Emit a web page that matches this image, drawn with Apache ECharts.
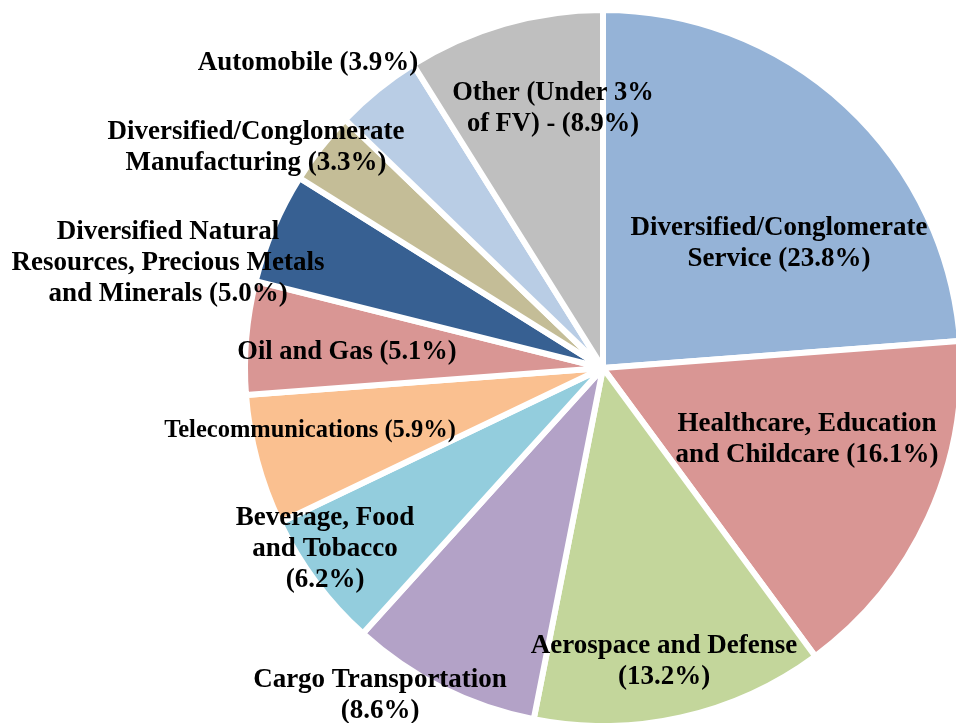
<!DOCTYPE html>
<html><head><meta charset="utf-8">
<script src="https://cdn.jsdelivr.net/npm/echarts@6/dist/echarts.min.js"></script>
<style>html,body{margin:0;padding:0;background:#fff}#c{width:956px;height:723px}</style>
</head><body><div id="c"></div>
<script>
const categories = [
  'Diversified/Conglomerate\nService',
  'Healthcare, Education\nand Childcare',
  'Aerospace and Defense\n',
  'Cargo Transportation\n',
  'Beverage, Food\nand Tobacco\n',
  'Telecommunications ',
  'Oil and Gas ',
  'Diversified Natural\nResources, Precious Metals\nand Minerals ',
  'Diversified/Conglomerate\nManufacturing ',
  'Automobile ',
  'Other (Under 3%\nof FV) - '
];
const values = [23.8, 16.1, 13.2, 8.6, 6.2, 5.9, 5.1, 5.0, 3.3, 3.9, 8.9];
const colors = ['#95B3D7','#D99694','#C3D69B','#B3A2C7','#93CDDD','#FAC090','#D99694','#376092','#C4BD97','#B9CDE5','#BFBFBF'];
// label anchor positions (centre of text block)
const labelPos = [[779,244],[807,440],[664,662],[380,696],[325,549],[310,431],[347,352],[168,263],[256,148],[308,63],[553,109]];
const labelSize = [27, 27, 27, 27, 27, 24.5, 26.5, 27, 27, 27, 26.5];

const chart = echarts.init(document.getElementById('c'));
chart.setOption({
  animation: false,
  series: [{
    type: 'pie',
    center: [603, 368],
    radius: 358,
    startAngle: 90,
    clockwise: true,
    data: categories.map((n, i) => ({name: n, value: values[i], itemStyle: {color: colors[i]}, label: {fontSize: labelSize[i]}})),
    itemStyle: {borderColor: '#fff', borderWidth: 6},
    label: {
      show: true,
      position: 'inside',
      formatter: p => {
        const n = p.name;
        const pct = '(' + p.value.toFixed(1) + '%)';
        if (n.endsWith('\n')) return n + pct;
        if (n.endsWith(' ')) return n + pct;
        return n + ' ' + pct;
      },
      fontFamily: 'Liberation Serif',
      fontWeight: 'bold',
      fontSize: 27,
      lineHeight: 31,
      color: '#000',
      align: 'center',
      verticalAlign: 'middle'
    },
    labelLine: {show: false},
    labelLayout: p => ({x: labelPos[p.dataIndex][0], y: labelPos[p.dataIndex][1], align: 'center', verticalAlign: 'middle'}),
    emphasis: {disabled: true}
  }]
});
</script></body></html>
